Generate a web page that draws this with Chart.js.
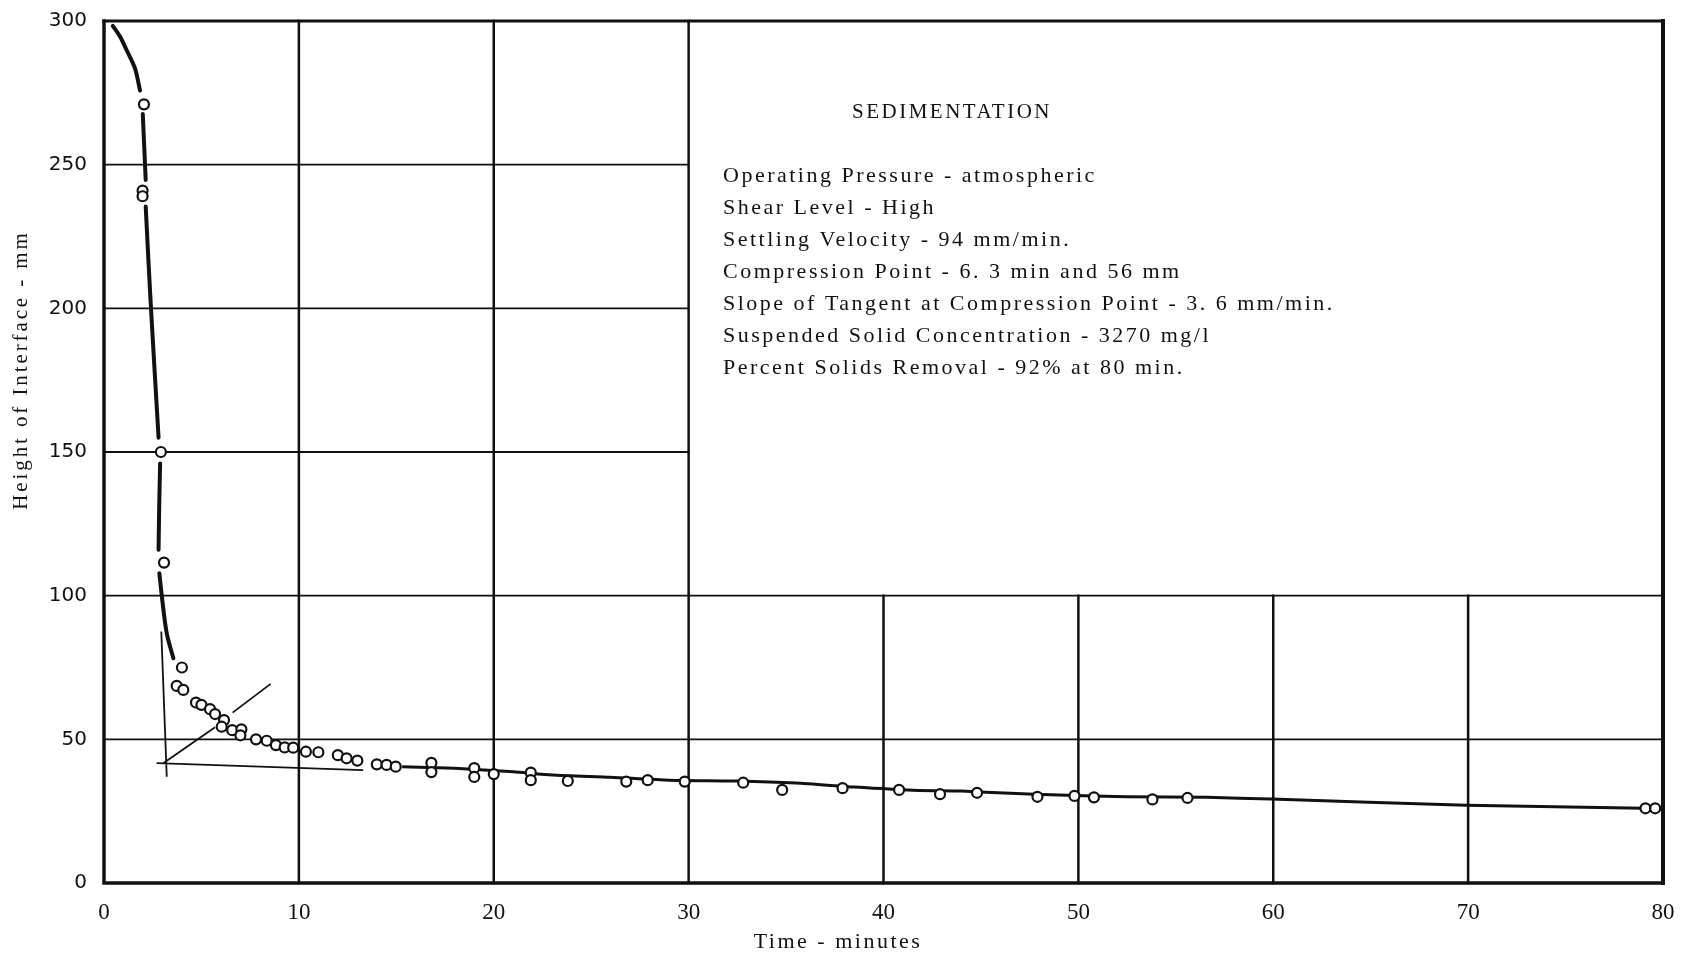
<!DOCTYPE html>
<html lang="en">
<head>
    <meta charset="UTF-8">
    <title>Sedimentation</title>
    <script src="https://cdn.jsdelivr.net/npm/chart.js"></script>
    <style>
        body {
            margin: 0;
            background: #fff;
        }
        #chartContainer {
            position: relative;
            width: 1683px;
            height: 957px;
        }
    </style>
</head>
<body>
    <div id="chartContainer">
        <canvas id="sedChart"></canvas>
    </div>

    <script>
        // observed points (time in min, interface height in mm)
        const timeMin = [2.05, 1.98, 1.98, 2.92, 3.08, 4.0, 3.73, 4.07, 4.72, 5.0,
            5.44, 5.7, 6.16, 6.04, 6.58, 7.05, 7.0, 7.8, 8.35, 8.82,
            9.27, 9.71, 10.36, 11.0, 12.0, 12.45, 13.0, 14.0, 14.5, 14.97,
            16.8, 16.8, 19.0, 19.0, 20.0, 21.9, 21.9, 23.8, 26.8, 27.9,
            29.8, 32.8, 34.8, 37.9, 40.8, 42.9, 44.8, 47.9, 49.8, 50.8,
            53.8, 55.6, 79.1, 79.6];
        const heightMm = [271, 241, 239, 150, 111.5, 75, 68.6, 67.2, 62.8, 62,
            60.5, 58.8, 56.7, 54.4, 53.2, 53.5, 51.4, 50, 49.5, 48,
            47.2, 47.1, 45.7, 45.5, 44.5, 43.4, 42.6, 41.3, 41.1, 40.5,
            41.8, 38.6, 40.0, 36.9, 37.9, 38.4, 35.8, 35.5, 35.3, 35.8,
            35.3, 34.9, 32.4, 33.0, 32.4, 30.9, 31.4, 30.0, 30.3, 29.8,
            29.1, 29.6, 26, 26];

        // hand drawn settling curve, null = break in the pen stroke
        const upperCurveX = [0.45, 0.82, 1.16, 1.59, 1.85, null,
            1.99, 2.14, null,
            2.14, 2.37, 2.6, 2.8, null,
            2.88, 2.83, 2.8, null,
            2.84, 2.99, 3.22, 3.56];
        const upperCurveY = [298.3, 294.6, 289.9, 283.5, 275.8, null,
            267.6, 244.7, null,
            235.4, 205, 178, 155, null,
            146, 130, 116, null,
            107.8, 98.5, 86.9, 78.2];

        const lowerCurveX = [15.3, 18, 21, 23, 26, 29, 32.5, 35.5, 38.5, 41.5, 44, 46.5, 49, 52.5, 56.6, 59.9, 69.9, 79];
        const lowerCurveY = [40.5, 39.9, 38.7, 37.6, 36.8, 35.8, 35.5, 34.8, 33.4, 32.3, 32.0, 31.2, 30.6, 30.0, 29.8, 29.2, 27.1, 26.0];

        // tangent construction lines
        const constructX = [2.94, 3.22, null, 2.7, 13.3, null, 3.04, 5.7, null, 6.6, 8.55];
        const constructY = [87.5, 37.0, null, 41.7, 39.3, null, 41.7, 54.2, null, 59.3, 69.3];

        const xTicks = [0, 10, 20, 30, 40, 50, 60, 70, 80];
        const yTicks = [0, 50, 100, 150, 200, 250, 300];

        const noteTitle = 'SEDIMENTATION';
        const noteLines = [
            'Operating Pressure - atmospheric',
            'Shear Level - High',
            'Settling Velocity - 94 mm/min.',
            'Compression Point - 6. 3 min and 56 mm',
            'Slope of Tangent at Compression Point - 3. 6 mm/min.',
            'Suspended Solid Concentration - 3270 mg/l',
            'Percent Solids Removal - 92% at 80 min.'
        ];

        function toPoints(xs, ys) {
            return xs.map((x, i) => ({ x: x === null ? xs[i - 1] : x, y: ys[i] }));
        }

        const gridPlugin = {
            id: 'gridPlugin',
            beforeDatasetsDraw(chart) {
                const ctx = chart.ctx;
                const xs = chart.scales.x, ys = chart.scales.y;
                const X = v => xs.getPixelForValue(v);
                const Y = v => ys.getPixelForValue(v);
                ctx.save();
                ctx.strokeStyle = '#111';
                ctx.lineCap = 'square';
                // horizontal lines
                ctx.lineWidth = 1.8;
                [[250, 30], [200, 30], [150, 30], [100, 80], [50, 80]].forEach(([v, end]) => {
                    ctx.beginPath();
                    ctx.moveTo(X(0), Y(v));
                    ctx.lineTo(X(end), Y(v));
                    ctx.stroke();
                });
                // vertical lines
                ctx.lineWidth = 2.5;
                [[10, 300], [20, 300], [30, 300], [40, 100], [50, 100], [60, 100], [70, 100]].forEach(([v, top]) => {
                    ctx.beginPath();
                    ctx.moveTo(X(v), Y(0));
                    ctx.lineTo(X(v), Y(top));
                    ctx.stroke();
                });
                // frame
                ctx.lineWidth = 3.5;
                ctx.beginPath();
                ctx.moveTo(X(0), Y(300));
                ctx.lineTo(X(0), Y(0));
                ctx.lineTo(X(80), Y(0));
                ctx.stroke();
                ctx.lineWidth = 3;
                ctx.beginPath();
                ctx.moveTo(X(0), Y(300));
                ctx.lineTo(X(80), Y(300));
                ctx.stroke();
                ctx.lineWidth = 4;
                ctx.beginPath();
                ctx.moveTo(X(80), Y(300));
                ctx.lineTo(X(80), Y(0));
                ctx.stroke();
                ctx.restore();
            },
            afterDraw(chart) {
                const ctx = chart.ctx;
                ctx.save();
                ctx.fillStyle = '#111';
                ctx.textBaseline = 'middle';
                // note box
                ctx.font = '21px "Liberation Serif"';
                ctx.letterSpacing = '2.5px';
                ctx.textAlign = 'center';
                ctx.fillText(noteTitle, 952, 112);
                ctx.font = '22px "Liberation Serif"';
                ctx.letterSpacing = '2.5px';
                ctx.textAlign = 'left';
                noteLines.forEach((t, i) => ctx.fillText(t, 723, 176 + i * 32));
                // axis titles
                ctx.textAlign = 'center';
                ctx.font = '22px "Liberation Serif"';
                ctx.letterSpacing = '2.5px';
                ctx.fillText('Time - minutes', 838, 942);
                ctx.translate(21, 370);
                ctx.rotate(-Math.PI / 2);
                ctx.font = '21px "Liberation Serif"';
                ctx.letterSpacing = '2.9px';
                ctx.fillText('Height of Interface - mm', 0, 0);
                ctx.restore();
            }
        };

        const ctx = document.getElementById('sedChart').getContext('2d');
        new Chart(ctx, {
            type: 'scatter',
            data: {
                datasets: [
                    {
                        label: 'Observed',
                        data: toPoints(timeMin, heightMm),
                        pointRadius: 5,
                        pointBorderWidth: 2.2,
                        pointBackgroundColor: '#fff',
                        pointBorderColor: '#111',
                        showLine: false,
                        order: 0
                    },
                    {
                        label: 'Settling curve',
                        data: toPoints(upperCurveX, upperCurveY),
                        showLine: true,
                        spanGaps: false,
                        borderColor: '#111',
                        borderWidth: 4,
                        borderCapStyle: 'round',
                        tension: 0.3,
                        pointRadius: 0,
                        order: 1
                    },
                    {
                        label: 'Compression curve',
                        data: toPoints(lowerCurveX, lowerCurveY),
                        showLine: true,
                        borderColor: '#111',
                        borderWidth: 3,
                        tension: 0.2,
                        pointRadius: 0,
                        order: 2
                    },
                    {
                        label: 'Construction',
                        data: toPoints(constructX, constructY),
                        showLine: true,
                        spanGaps: false,
                        borderColor: '#111',
                        borderWidth: 1.8,
                        tension: 0,
                        pointRadius: 0,
                        order: 3
                    }
                ]
            },
            options: {
                responsive: true,
                maintainAspectRatio: false,
                animation: false,
                layout: { padding: { top: 21, right: 20, left: 0, bottom: 0 } },
                plugins: {
                    legend: { display: false },
                    tooltip: { enabled: false }
                },
                scales: {
                    x: {
                        type: 'linear',
                        min: 0,
                        max: 80,
                        afterBuildTicks: s => { s.ticks = xTicks.map(v => ({ value: v })); },
                        afterFit: s => {
                            s.height = 74;
                            s.paddingLeft = 0; s.paddingRight = 0;
                        },
                        grid: { display: false },
                        border: { display: false },
                        ticks: {
                            color: '#111',
                            padding: 8,
                            maxRotation: 0,
                            font: { family: '"Liberation Serif"', size: 23 }
                        }
                    },
                    y: {
                        type: 'linear',
                        min: 0,
                        max: 300,
                        afterBuildTicks: s => { s.ticks = yTicks.map(v => ({ value: v })); },
                        afterFit: s => {
                            s.width = 104;
                            s.paddingTop = 0; s.paddingBottom = 0;
                        },
                        grid: { display: false },
                        border: { display: false },
                        ticks: {
                            color: '#111',
                            padding: 9,
                            font: { family: '"DejaVu Sans"', size: 20 }
                        }
                    }
                }
            },
            plugins: [gridPlugin]
        });
    </script>
</body>
</html>
